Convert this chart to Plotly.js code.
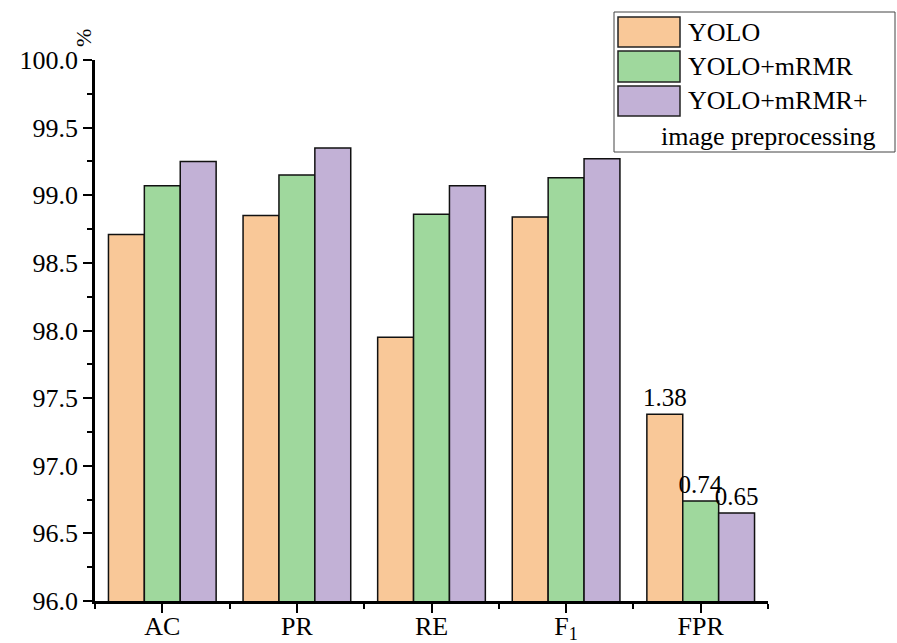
<!DOCTYPE html>
<html>
<head>
<meta charset="utf-8">
<script src="https://cdn.plot.ly/plotly-3.0.1.min.js"></script>
<style>html,body{margin:0;padding:0;background:#fff;}#chart{width:897px;height:643px;}</style>
</head>
<body>
<div id="chart"></div>
<script>
const categories = ['AC', 'PR', 'RE', 'F<sub>1</sub>', 'FPR'];
const seriesNames = ['YOLO', 'YOLO+mRMR', 'YOLO+mRMR+<br>image preprocessing'];
const yolo = [98.71, 98.85, 97.95, 98.84, 97.38];
const yoloMrmr = [99.07, 99.15, 98.86, 99.13, 96.74];
const yoloMrmrPre = [99.25, 99.35, 99.07, 99.27, 96.65];
const yoloLabels = ['', '', '', '', '1.38'];
const yoloMrmrLabels = ['', '', '', '', '0.74'];
const yoloMrmrPreLabels = ['', '', '', '', '0.65'];
const yTickVals = [96.0, 96.5, 97.0, 97.5, 98.0, 98.5, 99.0, 99.5, 100.0];

const colors = ['#F9C898', '#9FD89D', '#C2B1D6'];
const FONT = 'Liberation Serif, Times New Roman, serif';
const xIdx = categories.map((c, i) => i);
const allY = [yolo, yoloMrmr, yoloMrmrPre];
const allLabels = [yoloLabels, yoloMrmrLabels, yoloMrmrPreLabels];

const traces = allY.map((ys, k) => ({
  type: 'bar',
  x: xIdx,
  y: ys,
  name: seriesNames[k],
  text: allLabels[k],
  textposition: 'outside',
  constraintext: 'none',
  textfont: {family: FONT, size: 25, color: '#000'},
  cliponaxis: false,
  marker: {color: colors[k], line: {color: '#111', width: 1.5}},
  showlegend: false,
  hoverinfo: 'x+y'
}));

// manual legend (large swatches like the reference)
const px = v => (v - 95) / 673;
const py = v => (601 - v) / 541;
const shapes = [{
  type: 'rect', xref: 'paper', yref: 'paper',
  x0: px(614), x1: px(895), y0: py(152), y1: py(12),
  line: {color: '#444', width: 1}, fillcolor: 'rgba(0,0,0,0)'
}];
const swY = [[17, 47], [51, 82], [86, 116]];
const annotations = [];
seriesNames.forEach((n, k) => {
  shapes.push({
    type: 'rect', xref: 'paper', yref: 'paper',
    x0: px(618), x1: px(680), y0: py(swY[k][1]), y1: py(swY[k][0]),
    line: {color: '#222', width: 1.5}, fillcolor: colors[k]
  });
  const parts = n.split('<br>');
  annotations.push({
    xref: 'paper', yref: 'paper', x: px(686), y: py((swY[k][0] + swY[k][1]) / 2),
    xanchor: 'left', yanchor: 'middle', showarrow: false, text: parts[0],
    font: {family: FONT, size: 26, color: '#000'}
  });
  if (parts[1]) {
    annotations.push({
      xref: 'paper', yref: 'paper', x: px(659), y: py(136),
      xanchor: 'left', yanchor: 'middle', showarrow: false, text: parts[1],
      font: {family: FONT, size: 26, color: '#000'}
    });
  }
});
annotations.push({
  xref: 'paper', yref: 'paper', x: px(84), y: py(38),
  xanchor: 'center', yanchor: 'middle', showarrow: false, text: '%',
  textangle: -90, font: {family: FONT, size: 22, color: '#000'}
});

const layout = {
  width: 897, height: 643,
  margin: {l: 95, r: 129, t: 60, b: 42},
  paper_bgcolor: '#fff', plot_bgcolor: '#fff',
  barmode: 'group', bargap: 0.2, bargroupgap: 0,
  font: {family: FONT, size: 26, color: '#000'},
  xaxis: {
    type: 'linear', range: [-0.5, 4.5],
    tickvals: xIdx, ticktext: categories,
    ticks: 'outside', ticklen: 9, tickwidth: 2, tickcolor: '#000',
    ticklabelstandoff: -9,
    minor: {tick0: -0.5, dtick: 1, ticks: 'outside', ticklen: 5, tickwidth: 2, tickcolor: '#000'},
    showline: true, linecolor: '#000', linewidth: 2.5,
    showgrid: false, zeroline: false,
    tickfont: {family: FONT, size: 26, color: '#000'}
  },
  yaxis: {
    range: [96, 100],
    tickvals: yTickVals, tickformat: '.1f',
    ticks: 'outside', ticklen: 9, tickwidth: 2, tickcolor: '#000',
    minor: {dtick: 0.25, tick0: 96, ticks: 'outside', ticklen: 5, tickwidth: 2, tickcolor: '#000'},
    showline: true, linecolor: '#000', linewidth: 2.5,
    showgrid: false, zeroline: false,
    tickfont: {family: FONT, size: 26, color: '#000'}
  },
  shapes: shapes,
  annotations: annotations
};

Plotly.newPlot('chart', traces, layout, {displayModeBar: false, responsive: false});
</script>
</body>
</html>
